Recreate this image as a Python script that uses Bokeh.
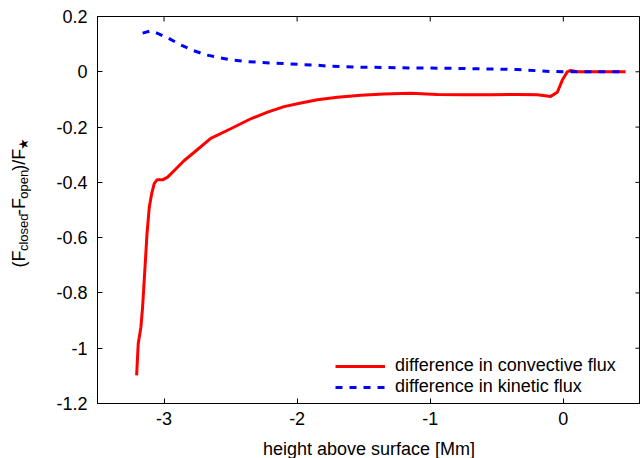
import math
from bokeh.plotting import figure
from bokeh.layouts import row, column
from bokeh.models import Range1d, FixedTicker, Legend, LegendItem, Label
from bokeh.embed import file_html
from bokeh.resources import INLINE

# ---------------- data ----------------
conv_x = [-3.206, -3.194, -3.174, -3.161, -3.143, -3.128, -3.111, -3.093, -3.074, -3.053,
          -3.011, -2.973, -2.923, -2.848, -2.773, -2.649, -2.499, -2.348, -2.222, -2.098,
          -1.972, -1.847, -1.697, -1.522, -1.347, -1.146, -0.946, -0.746, -0.546, -0.345,
          -0.195, -0.095, -0.045, -0.008, 0.030, 0.055, 0.105, 0.280, 0.468]
conv_y = [-1.098, -0.984, -0.924, -0.850, -0.707, -0.586, -0.490, -0.441, -0.405, -0.391,
          -0.391, -0.381, -0.357, -0.321, -0.291, -0.241, -0.206, -0.170, -0.146, -0.126,
          -0.113, -0.101, -0.092, -0.085, -0.080, -0.078, -0.082, -0.083, -0.083, -0.082,
          -0.083, -0.089, -0.074, -0.031, 0.000, 0.005, 0.000, 0.000, 0.000]

kin_x = [-3.161, -3.100, -3.068, -2.973, -2.878, -2.781, -2.683, -2.583, -2.480, -2.375,
         -2.273, -2.167, -2.065, -1.959, -1.857, -1.754, -1.547, -1.146, -0.746, -0.345,
         -0.095, 0.030, 0.250, 0.468]
kin_y = [0.140, 0.148, 0.143, 0.123, 0.098, 0.077, 0.061, 0.051, 0.042, 0.037,
         0.034, 0.031, 0.029, 0.026, 0.024, 0.020, 0.017, 0.014, 0.012, 0.008,
         0.001, 0.000, 0.000, 0.000]

x_ticks = [-3, -2, -1, 0]
x_tick_labels = ["-3", "-2", "-1", "0"]
y_ticks = [0.2, 0, -0.2, -0.4, -0.6, -0.8, -1, -1.2]
y_tick_labels = ["0.2", "0", "-0.2", "-0.4", "-0.6", "-0.8", "-1", "-1.2"]

series_names = ["difference in convective flux", "difference in kinetic flux"]
x_label = "height above surface [Mm]"
# y label: (F_closed - F_open)/F_star, as (text, is_subscript) pieces
y_label_pieces = [("(F", False), ("closed", True), ("-F", False), ("open", True),
                  (")/F", False), ("\u2605", True)]

X_START, X_END = -3.5, 0.58
Y_START, Y_END = -1.2, 0.2

FONT = "Liberation Sans"
FS = "18px"

TOTAL_W, TOTAL_H = 640, 458
LW = 45                      # strip holding the y-axis title
BH = 23                      # strip holding the x-axis title
W, H = TOTAL_W - LW, TOTAL_H - BH
BL, BR, BT, BB = 97 - LW, 0, 16, 32
TICK = 5

# ---------------- main figure ----------------
p = figure(width=W, height=H, output_backend="svg", toolbar_location=None,
           x_range=Range1d(X_START, X_END), y_range=Range1d(Y_START, Y_END),
           min_border_left=BL, min_border_right=BR, min_border_top=BT, min_border_bottom=BB)
p.xgrid.visible = False
p.ygrid.visible = False
p.outline_line_color = "black"
p.outline_line_width = 1
p.background_fill_color = "white"
p.border_fill_color = "white"

r1 = p.line(conv_x, conv_y, line_color="#ff0000", line_width=3)
r2 = p.line(kin_x, kin_y, line_color="#0000ff", line_width=3, line_dash="7 7")

for ax, ticks, labels in ((p.xaxis[0], x_ticks, x_tick_labels), (p.yaxis[0], y_ticks, y_tick_labels)):
    ax.ticker = FixedTicker(ticks=ticks)
    ax.major_label_overrides = {t: l for t, l in zip(ticks, labels)}
    ax.major_tick_in = TICK
    ax.major_tick_out = 0
    ax.minor_tick_line_color = None
    ax.major_label_text_font = FONT
    ax.major_label_text_font_size = FS
    ax.major_label_text_color = "black"
    ax.axis_line_color = "black"
    ax.major_tick_line_color = "black"
p.xaxis[0].major_label_standoff = 8
p.yaxis[0].major_label_standoff = 10

# mirrored ticks on the top and right edges (gnuplot style)
frame_w = W - BL - BR
frame_h = H - BT - BB
dx = TICK * (X_END - X_START) / frame_w
dy = TICK * (Y_END - Y_START) / frame_h
p.segment(x0=x_ticks, x1=x_ticks, y0=[Y_END] * len(x_ticks), y1=[Y_END - dy] * len(x_ticks),
          line_color="black", line_width=1)
p.segment(x0=[X_END] * len(y_ticks), x1=[X_END - dx] * len(y_ticks), y0=y_ticks, y1=y_ticks,
          line_color="black", line_width=1)

legend = Legend(items=[LegendItem(label=series_names[0], renderers=[r1]),
                       LegendItem(label=series_names[1], renderers=[r2])],
                location=(238, 6), orientation="vertical")
legend.background_fill_alpha = 0
legend.border_line_color = None
legend.label_text_font = FONT
legend.label_text_font_size = FS
legend.label_text_color = "black"
legend.glyph_width = 50
legend.glyph_height = 18
legend.label_height = 18
legend.spacing = 0
legend.padding = 0
legend.margin = 0
legend.label_standoff = 10
p.add_layout(legend)


def strip(width, height):
    f = figure(width=width, height=height, output_backend="svg", toolbar_location=None,
               x_range=Range1d(0, width), y_range=Range1d(0, height),
               x_axis_type=None, y_axis_type=None,
               min_border_left=0, min_border_right=0, min_border_top=0, min_border_bottom=0)
    f.xgrid.visible = False
    f.ygrid.visible = False
    f.outline_line_color = None
    f.background_fill_color = "white"
    f.border_fill_color = "white"
    return f

# ---------------- strip with the rotated y-axis title ----------------
t = strip(LW, H)
adv = {'(': 333, ')': 333, 'F': 611, '-': 333, '/': 278, 'c': 500, 'l': 222, 'o': 556,
       's': 500, 'e': 556, 'd': 556, 'p': 556, 'n': 556, '\u2605': 838}
MAIN, SUB = 18, 13
BASE_MAIN, BASE_SUB = 18, 23          # baseline position (px from left)
CENTER_Y = 210                        # px from top
GAP = 1.08
sizes = [SUB if s else MAIN for _, s in y_label_pieces]
widths = [GAP * sum(adv[c] for c in txt) * sz / 1000.0 for (txt, _), sz in zip(y_label_pieces, sizes)]
cur = CENTER_Y + sum(widths) / 2
for (txt, is_sub), sz, w in zip(y_label_pieces, sizes, widths):
    t.add_layout(Label(x=BASE_SUB if is_sub else BASE_MAIN, y=H - cur, text=txt, angle=math.pi / 2,
                       text_font=FONT, text_font_size=f"{sz}px", text_color="black",
                       text_align="left", text_baseline="alphabetic"))
    cur -= w

# ---------------- strip with the x-axis title ----------------
b = strip(TOTAL_W, BH)
b.add_layout(Label(x=97 + frame_w / 2, y=BH - (448 - H), text=x_label,
                   text_font=FONT, text_font_size=FS, text_color="black",
                   text_align="center", text_baseline="alphabetic"))

layout = column(row(t, p, spacing=0), b, spacing=0)
open("out.html", "w").write(file_html(layout, INLINE))
